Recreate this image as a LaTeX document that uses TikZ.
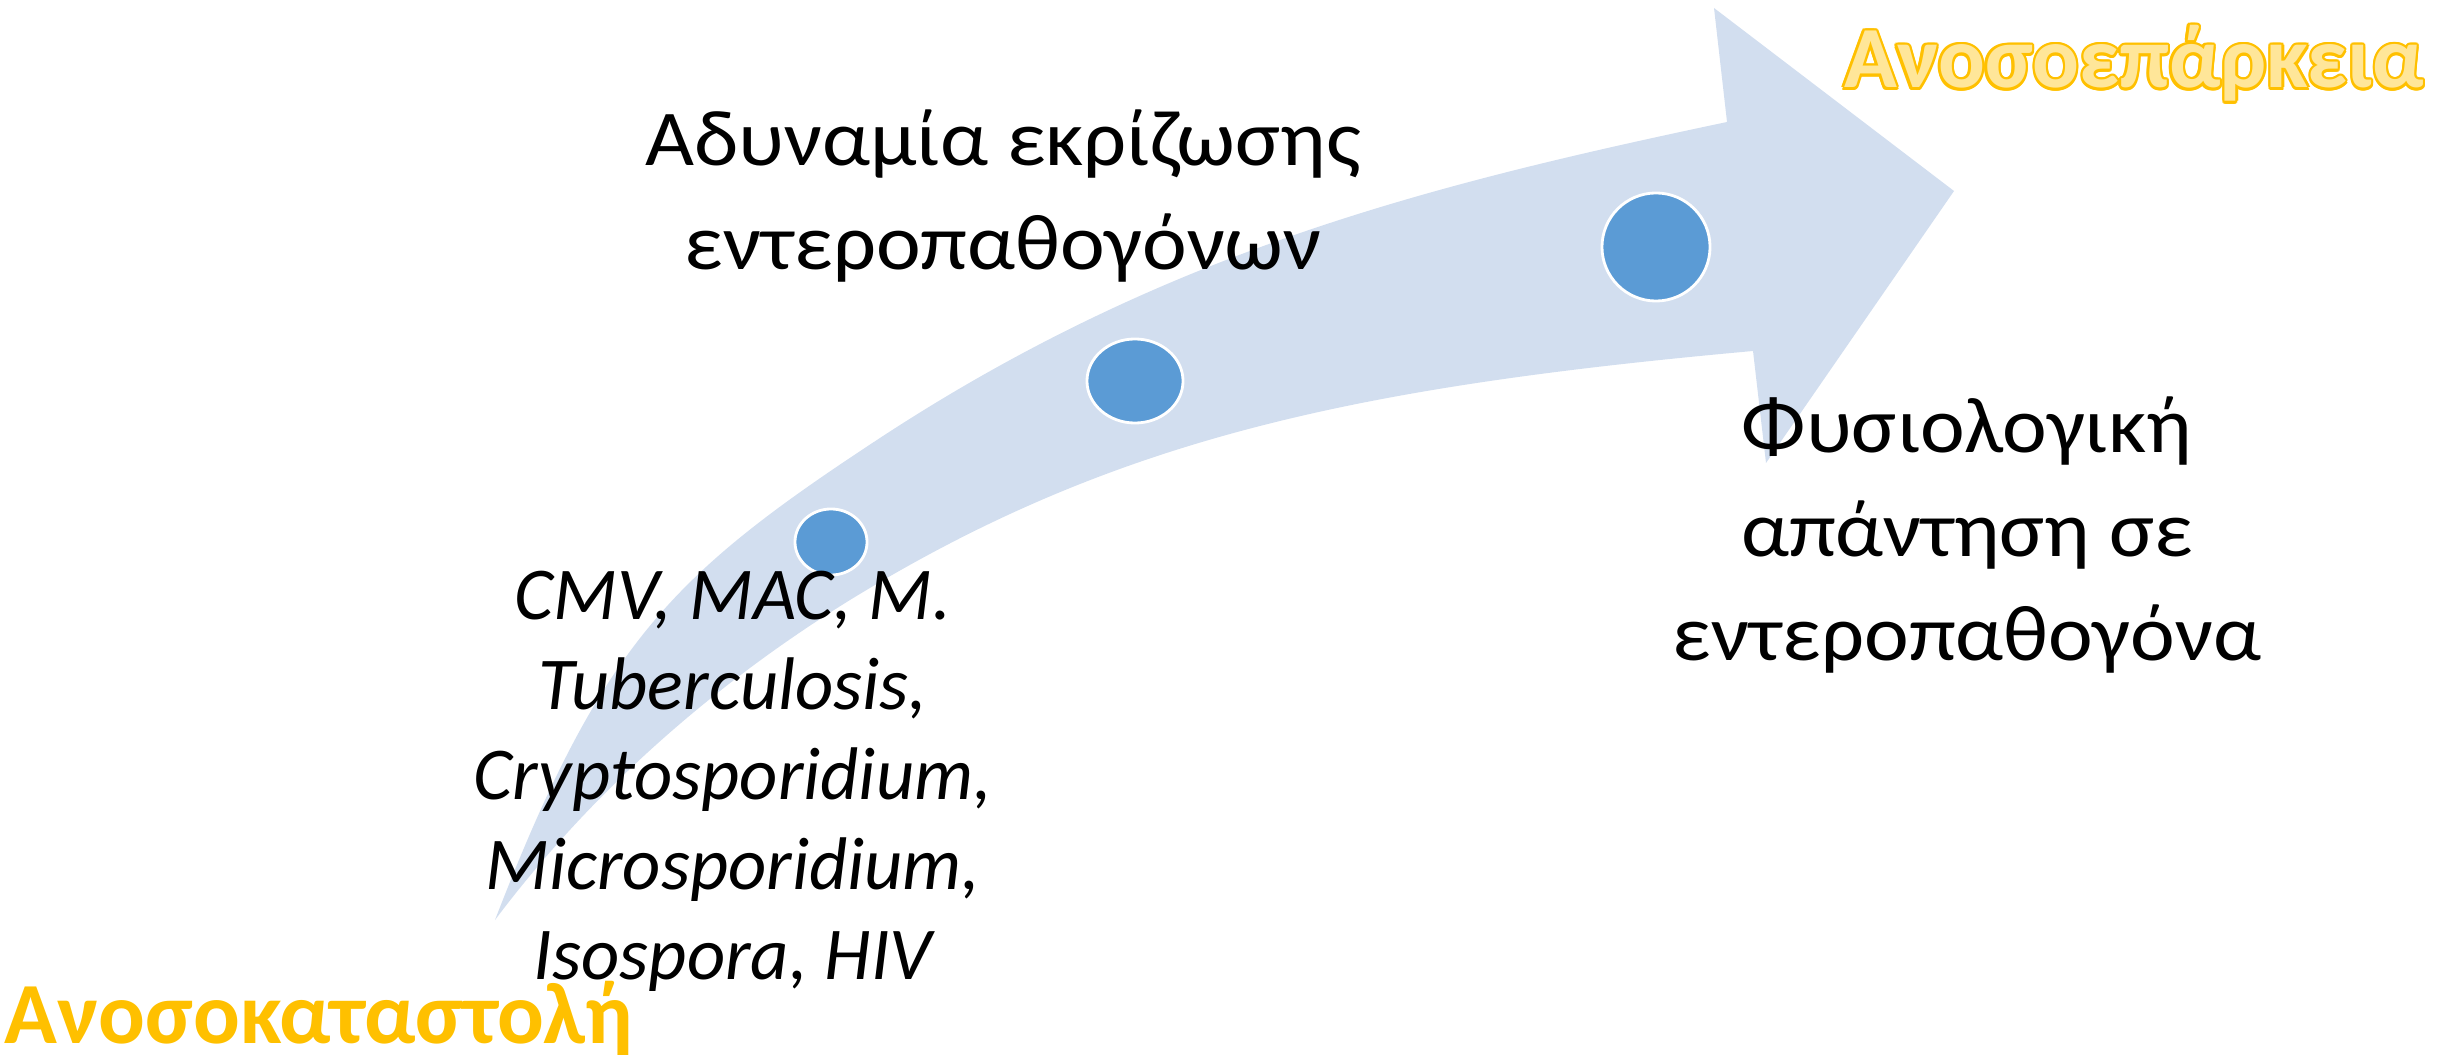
\documentclass[tikz,border=0pt]{standalone}
\usepackage{fontspec}
\setmainfont{Carlito}
\newfontfamily\widegreek[FakeStretch=1.07]{Carlito}
\usetikzlibrary{shapes.geometric}
\definecolor{bandblue}{HTML}{D2DEEF}
\definecolor{dotblue}{HTML}{5B9BD5}
\definecolor{gold}{HTML}{FFC000}
\definecolor{paleyellow}{HTML}{FFE699}

\begin{document}
\begin{tikzpicture}[
        x=0.01cm, y=-0.01cm,
        stagedot/.style={ellipse, draw=white, fill=dotblue, line width=0.8pt, inner sep=0pt},
        bodytext/.style={align=center, inner sep=0pt, font=\widegreek\fontsize{22.5pt}{29.6pt}\selectfont},
        pathogens/.style={align=center, inner sep=0pt, font=\fontsize{21.2pt}{25.6pt}\selectfont\itshape},
        heading/.style={anchor=base, inner sep=0pt, font=\fontsize{24.8pt}{30pt}\selectfont\bfseries},
    ]
    \useasboundingbox (0,0) rectangle (2448,1055);

    % Curved arrow
    \fill[bandblue] (495,920) .. controls (603,640) and (674,573) .. (883,436)
        .. controls (1168,250) and (1433,184) .. (1727,122)
        -- (1714,8) -- (1954,191) -- (1766,463) -- (1753,351)
        .. controls (1355,387) and (1114,438) .. (850,600)
        .. controls (714,684) and (591,792) .. (495,920) -- cycle;

    % Stages on the arrow
    \node[stagedot, minimum width=0.72cm, minimum height=0.66cm] (stage1) at (831,542) {};
    \node[stagedot, minimum width=0.96cm, minimum height=0.84cm] (stage2) at (1135,381) {};
    \node[stagedot, minimum width=1.08cm, minimum height=1.08cm] (stage3) at (1656,247) {};

    % Labels
    \node[bodytext] (failure) at (1003,196) {Αδυναμία εκρίζωσης\\εντεροπαθογόνων};
    \node[bodytext] (normal) at (1967,535) {Φυσιολογική\\απάντηση σε\\εντεροπαθογόνα};
    \node[pathogens] (agents) at (733,781) {CMV, MAC, M.\\Tuberculosis,\\Cryptosporidium,\\Microsporidium,\\Isospora, HIV};

    % Ends of the scale
    \node[heading, text=gold] (suppression) at (319,1043) {Ανοσοκαταστολή};
    \foreach \ang in {0,30,...,330}
        \node[heading, text=gold, shift={(\ang:2.4)}] (rim\ang) at (2134,88) {Ανοσοεπάρκεια};
    \node[heading, text=paleyellow] (competence) at (2134,88) {Ανοσοεπάρκεια};
\end{tikzpicture}
\end{document}
